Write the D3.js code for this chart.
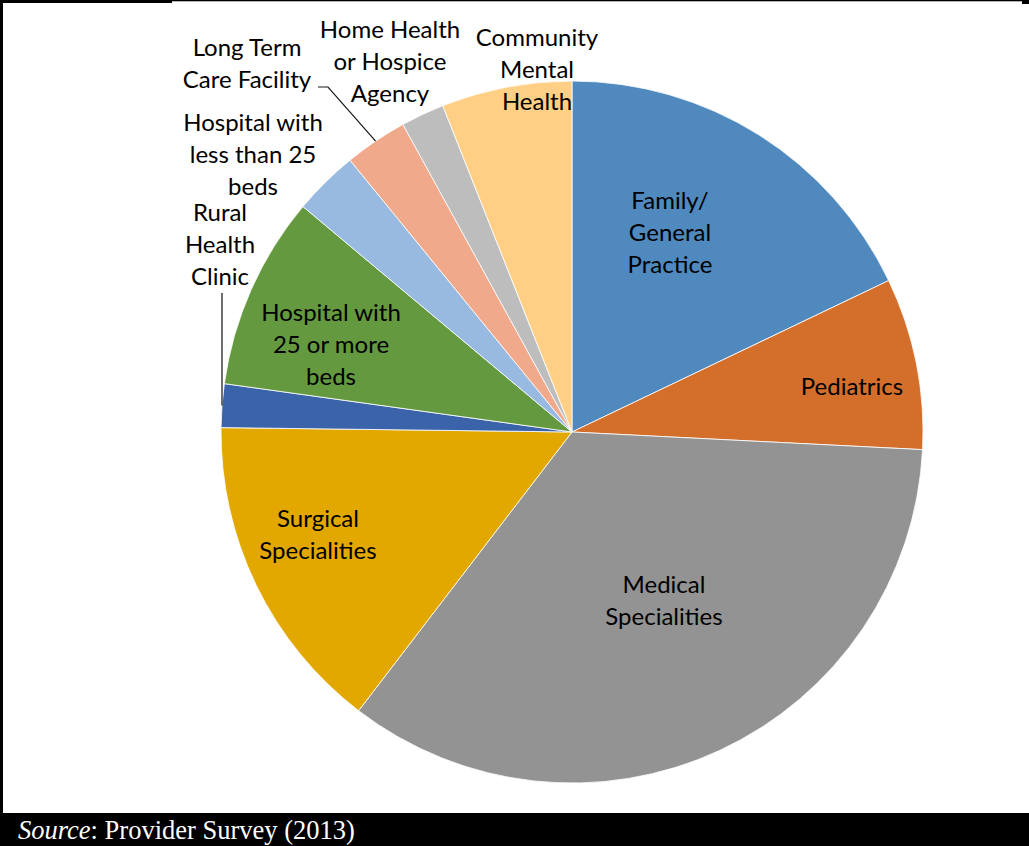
<!DOCTYPE html>
<html>
<head>
<meta charset="utf-8">
<script src="https://cdn.jsdelivr.net/npm/d3@7"></script>
<style>
  html, body { margin: 0; padding: 0; background: #fff; }
  svg { display: block; }
</style>
</head>
<body>
<svg id="chart" width="1029" height="846"></svg>
<script>
// Practice settings of survey respondents, share of total (%), clockwise from 12 o'clock
const categories = [
  "Family/ General Practice",
  "Pediatrics",
  "Medical Specialities",
  "Surgical Specialities",
  "Rural Health Clinic",
  "Hospital with 25 or more beds",
  "Hospital with less than 25 beds",
  "Long Term Care Facility",
  "Home Health or Hospice Agency",
  "Community Mental Health"
];
const shares = [17.9, 7.9, 34.6, 14.8, 2.0, 8.9, 3.0, 2.9, 2.0, 6.0];

// Wrapped label lines for each slice
const labelLines = [
  ["Family/", "General", "Practice"],
  ["Pediatrics"],
  ["Medical", "Specialities"],
  ["Surgical", "Specialities"],
  ["Rural", "Health", "Clinic"],
  ["Hospital with", "25 or more", "beds"],
  ["Hospital with", "less than 25", "beds"],
  ["Long Term", "Care Facility"],
  ["Home Health", "or Hospice", "Agency"],
  ["Community", "Mental", "Health"]
];

const colors = ["#4f89bd", "#d46f2b", "#939393", "#e2a800", "#3b63aa",
                "#64993f", "#98b9e0", "#f0a98a", "#bdbdbd", "#ffcf86"];

// Label block centres, relative to the pie centre (px)
const labelSpots = [
  [98, -199], [280, -45], [92, 169], [-254, 103], [-352, -187],
  [-241, -87], [-319, -277], [-325, -368], [-182, -370], [-35, -362]
];

const W = 1029, H = 846;
const cx = 572, cy = 432, R = 351;
const lineH = 32;

const svg = d3.select("#chart");

// Frame
svg.append("rect").attr("x", 0).attr("y", 0).attr("width", 172).attr("height", 3).attr("fill", "#000");
svg.append("rect").attr("x", 172).attr("y", 0).attr("width", 850).attr("height", 1.3).attr("fill", "#000");
svg.append("rect").attr("x", 1022).attr("y", 0).attr("width", 7).attr("height", 4).attr("fill", "#000");
svg.append("rect").attr("x", 0).attr("y", 0).attr("width", 3).attr("height", 813).attr("fill", "#000");

// Pie
const pie = d3.pie().sort(null).value(d => d).startAngle(0).endAngle(2 * Math.PI);
const arcs = pie(shares);
const arc = d3.arc().innerRadius(0).outerRadius(R);

const g = svg.append("g").attr("transform", `translate(${cx},${cy})`);

g.selectAll("path.slice")
  .data(arcs)
  .join("path")
  .attr("class", "slice")
  .attr("d", arc)
  .attr("fill", (d, i) => colors[i])
  .attr("stroke", "#ffffff")
  .attr("stroke-width", 0.8);

// Point on the rim at a slice's middle angle
function rimPoint(d) {
  const a = (d.startAngle + d.endAngle) / 2;
  return [R * Math.sin(a), -R * Math.cos(a)];
}

// Leader lines for the two labels that sit outside their slices
const ruralIdx = 4, ltcIdx = 7;
{
  const p = rimPoint(arcs[ruralIdx]);
  g.append("line")
    .attr("x1", p[0]).attr("y1", labelSpots[ruralIdx][1] + 48)
    .attr("x2", p[0]).attr("y2", p[1])
    .attr("stroke", "#404040").attr("stroke-width", 1.5);
}
{
  const p = rimPoint(arcs[ltcIdx]);
  const sx = labelSpots[ltcIdx][0] + 71, sy = labelSpots[ltcIdx][1] + 23;
  g.append("polyline")
    .attr("points", [[sx, sy], [sx + 10, sy], p].map(q => q.join(",")).join(" "))
    .attr("fill", "none")
    .attr("stroke", "#1a1a1a").attr("stroke-width", 1.2);
}

// Slice labels
const labels = g.selectAll("text.lbl")
  .data(arcs)
  .join("text")
  .attr("class", "lbl")
  .attr("text-anchor", "middle")
  .attr("font-family", "Lato, 'Open Sans', sans-serif")
  .attr("font-size", 24)
  .attr("fill", "#000");

labels.each(function(d, i) {
  const lines = labelLines[i];
  const [lx, ly] = labelSpots[i];
  const top = ly - (lines.length - 1) * lineH / 2;
  d3.select(this).selectAll("tspan")
    .data(lines)
    .join("tspan")
    .attr("x", lx)
    .attr("y", (t, k) => top + k * lineH)
    .attr("dy", "0.35em")
    .text(t => t);
});

// Source bar
svg.append("rect").attr("x", 0).attr("y", 813).attr("width", W).attr("height", H - 813).attr("fill", "#000");
const src = svg.append("text")
  .attr("x", 18).attr("y", 839)
  .attr("font-family", "'Liberation Serif', 'Times New Roman', serif")
  .attr("font-size", 26.5)
  .attr("fill", "#fff");
src.append("tspan").attr("font-style", "italic").text("Source");
src.append("tspan").text(": Provider Survey (2013)");
</script>
</body>
</html>
